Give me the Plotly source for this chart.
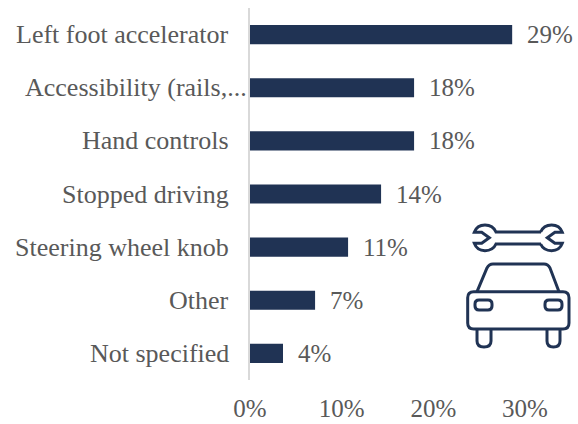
#!/usr/bin/env python3
# -*- coding: utf-8 -*-
import plotly.graph_objects as go

# =============================================================================
# data
# =============================================================================
categories = ["Left foot accelerator", "Accessibility (rails,...", "Hand controls",
              "Stopped driving", "Steering wheel knob", "Other", "Not specified"]
values = [28.6, 17.9, 17.9, 14.3, 10.7, 7.1, 3.6]
tick_vals = [0, 10, 20, 30]
tick_text = ["0%", "10%", "20%", "30%"]

NAVY = "#203354"
GREY = "#595959"
FONT = "Liberation Serif"
W, H = 578, 424
LEFT, RIGHT, TOP, BOTTOM = 250, 53, 8, 44


# =============================================================================
# helper functions
# =============================================================================
def pt(x, y):
    # window pixels to paper coords, only for the icon
    px = (x - LEFT) / (W - LEFT - RIGHT)
    py = 1 - (y - TOP) / (H - TOP - BOTTOM)
    return f"{px:.4f},{py:.4f}"


def rounded_rect(x0, y0, x1, y1, r):
    return (f"M{pt(x0 + r, y0)} L{pt(x1 - r, y0)} Q{pt(x1, y0)} {pt(x1, y0 + r)} "
            f"L{pt(x1, y1 - r)} Q{pt(x1, y1)} {pt(x1 - r, y1)} "
            f"L{pt(x0 + r, y1)} Q{pt(x0, y1)} {pt(x0, y1 - r)} "
            f"L{pt(x0, y0 + r)} Q{pt(x0, y0)} {pt(x0 + r, y0)} Z")


def wheel(x0, x1):
    return (f"M{pt(x0, 329)} L{pt(x0, 341)} Q{pt(x0, 347)} {pt((x0 + x1) / 2, 347)} "
            f"Q{pt(x1, 347)} {pt(x1, 341)} L{pt(x1, 329)}")


def wrench():
    m = 1036.6  # mirror for the right head
    left = (f"M{pt(541, 232)} L{pt(496, 232)} Q{pt(493, 225)} {pt(485, 225)} "
            f"Q{pt(477, 225)} {pt(474.3, 232.3)} L{pt(481.7, 232.3)} L{pt(489.3, 237.7)} "
            f"L{pt(481.7, 243.3)} L{pt(474.3, 243.3)} Q{pt(477, 250.7)} {pt(485, 250.7)} "
            f"Q{pt(493, 250.7)} {pt(496, 244)} L{pt(541, 244)}")
    right = (f"M{pt(m - 496, 232)} Q{pt(m - 493, 225)} {pt(m - 485, 225)} "
             f"Q{pt(m - 477, 225)} {pt(m - 474.3, 232.3)} L{pt(m - 481.7, 232.3)} "
             f"L{pt(m - 489.3, 237.7)} L{pt(m - 481.7, 243.3)} L{pt(m - 474.3, 243.3)} "
             f"Q{pt(m - 477, 250.7)} {pt(m - 485, 250.7)} Q{pt(m - 493, 250.7)} {pt(m - 496, 244)}")
    return [left, right]


# =============================================================================
# figure
# =============================================================================
fig = go.Figure(go.Bar(x=values, y=categories, orientation="h",
                       marker=dict(color=NAVY, line=dict(width=0)), showlegend=False))

fig.update_layout(width=W, height=H, bargap=0.64, plot_bgcolor="white", paper_bgcolor="white",
                  margin=dict(l=LEFT, r=RIGHT, t=TOP, b=BOTTOM, pad=0, autoexpand=False),
                  font=dict(family=FONT, size=26, color=GREY))
fig.update_xaxes(range=[0, 30], tickvals=tick_vals, ticktext=tick_text, showgrid=False,
                 zeroline=False, showline=False, ticks="", ticklabelstandoff=11,
                 automargin=False, tickfont=dict(family=FONT, size=25, color=GREY))
fig.update_yaxes(autorange="reversed", showgrid=False, zeroline=False, ticks="",
                 showticklabels=False, showline=True, linecolor="#d9d9d9", linewidth=2,
                 automargin=False)

# labels, the cut off one runs closer to the axis
for cat, val in zip(categories, values):
    shift = -1 if cat.endswith("...") else -19
    fig.add_annotation(x=0, y=cat, text=cat, showarrow=False, xanchor="right", xshift=shift)
    fig.add_annotation(x=val, y=cat, text=f"{round(val)}%", showarrow=False, xanchor="left",
                       xshift=13, font=dict(size=25))

# car and wrench icon
icon = [rounded_rect(467.7, 291.7, 569, 329, 6),
        f"M{pt(477, 291.7)} L{pt(487, 268)} Q{pt(489, 264)} {pt(493, 264)} L{pt(544, 264)} "
        f"Q{pt(548, 264)} {pt(550, 268)} L{pt(559, 291.7)}",
        rounded_rect(475, 300, 492, 310, 4),
        rounded_rect(545, 300, 562, 310, 4),
        wheel(477, 491), wheel(547, 560)] + wrench()
for path in icon:
    fig.add_shape(type="path", path=path, xref="paper", yref="paper",
                  line=dict(color=NAVY, width=3), layer="above")

# page margin would push the chart off the window
fig.write_html("out.html", config=dict(displayModeBar=False),
               post_script="document.body.style.margin='0';")
